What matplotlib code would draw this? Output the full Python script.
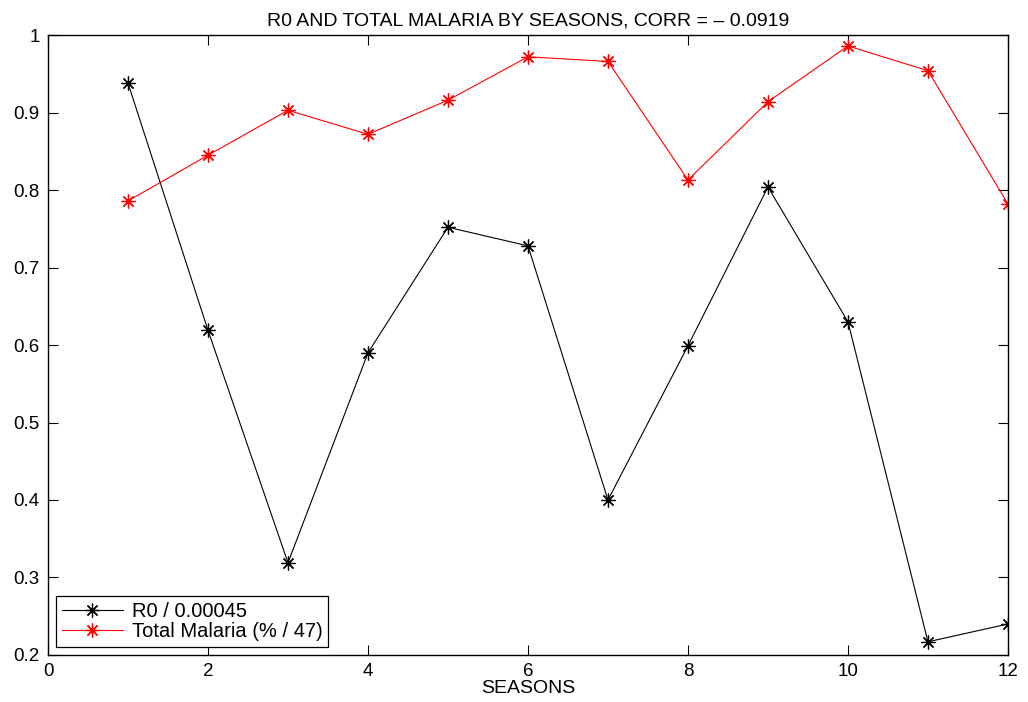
import numpy as np
import matplotlib
matplotlib.use('Agg')
import matplotlib.pyplot as plt

plt.rcParams['font.family'] = ['Liberation Sans', 'DejaVu Sans']

seasons = [1, 2, 3, 4, 5, 6, 7, 8, 9, 10, 11, 12]
r0 = [0.938, 0.619, 0.319, 0.590, 0.752, 0.728, 0.400, 0.599, 0.804, 0.630, 0.217, 0.240]
malaria = [0.786, 0.845, 0.903, 0.872, 0.916, 0.972, 0.966, 0.813, 0.914, 0.986, 0.954, 0.782]
xticks = [0, 2, 4, 6, 8, 10, 12]
yticks = [0.2, 0.3, 0.4, 0.5, 0.6, 0.7, 0.8, 0.9, 1.0]
yticklabels = ['0.2', '0.3', '0.4', '0.5', '0.6', '0.7', '0.8', '0.9', '1']

# matlab-style asterisk: 8 spokes (+ and x)
star = (8, 2, 0)

fig = plt.figure(figsize=(10.28, 7.02), dpi=100)
ax = fig.add_axes([0.0467, 0.067, 0.9338, 0.883])

ax.plot(seasons, r0, color='k', lw=0.8, marker=star, ms=10, mew=0.9, label='R0 / 0.00045')
ax.plot(seasons, malaria, color='r', lw=0.8, marker=star, ms=10, mew=0.9, label='Total Malaria (% / 47)')

ax.set_xlim(0, 12)
ax.set_ylim(0.2, 1)
ax.set_xticks(xticks)
ax.set_yticks(yticks)
ax.set_yticklabels(yticklabels)
ax.tick_params(direction='in', top=True, right=True, length=7, width=0.8, labelsize=13.5, pad=6)
for s in ax.spines.values():
    s.set_linewidth(1.0)

ax.set_title('R0 AND TOTAL MALARIA BY SEASONS, CORR = \u2013 0.0919', fontsize=14, pad=7)
ax.set_xlabel('SEASONS', fontsize=14, labelpad=0)

leg = ax.legend(loc='lower left', fontsize=14.5, fancybox=False, edgecolor='k',
                framealpha=1, borderaxespad=0.4, handlelength=3.0, borderpad=0.3,
                labelspacing=0.05, handletextpad=0.45)
leg.get_frame().set_linewidth(0.9)

fig.savefig('out.png', dpi=100)
